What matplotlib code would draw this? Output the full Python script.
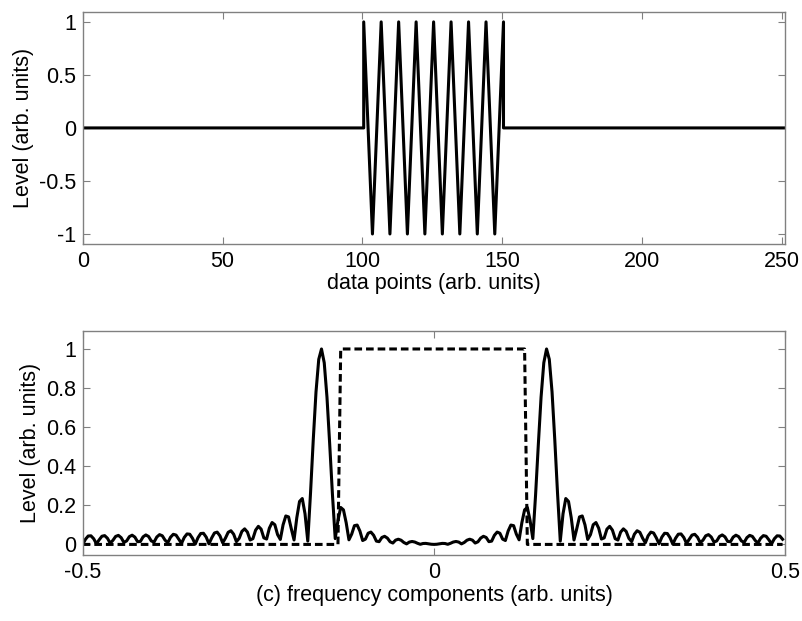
import numpy as np
import matplotlib
matplotlib.use("Agg")
import matplotlib.pyplot as plt

plt.rcParams['font.family'] = ['Liberation Sans', 'DejaVu Sans']
plt.rcParams['font.size'] = 15.5

# time-domain burst: zero, then eight periods of a cosine, then zero
n_points = 256
x_end = 251
burst_t = [100.5, 100.5, 103.63, 106.75, 109.88, 113, 116.13, 119.25, 122.38, 125.5,
           128.63, 131.75, 134.88, 138, 141.13, 144.25, 147.38, 150.5, 150.5]
burst_v = [0, 1, -1, 1, -1, 1, -1, 1, -1, 1, -1, 1, -1, 1, -1, 1, -1, 1, 0]

# the same burst as integer samples 101..150 (symmetric about 125.5)
burst_start = 101
burst_samples = [0.876, 0.063, -0.809, -0.930, -0.187, 0.729, 0.969, 0.309, -0.637, -0.992,
                 -0.426, 0.536, 1.000, 0.536, -0.426, -0.992, -0.637, 0.309, 0.969, 0.729,
                 -0.187, -0.930, -0.809, 0.063, 0.876, 0.876, 0.063, -0.809, -0.930, -0.187,
                 0.729, 0.969, 0.309, -0.637, -0.992, -0.426, 0.536, 1.000, 0.536, -0.426,
                 -0.992, -0.637, 0.309, 0.969, 0.729, -0.187, -0.930, -0.809, 0.063, 0.876]

# low-pass band edges (normalised frequency)
filter_lo = -0.133
filter_hi = 0.129

top_yticks = [-1, -0.5, 0, 0.5, 1]
top_xticks = [0, 50, 100, 150, 200, 250]
bot_yticks = [0, 0.2, 0.4, 0.6, 0.8, 1]
bot_xticks = [-0.5, 0, 0.5]

# spectrum of the zero-padded burst
sig = np.zeros(n_points)
sig[burst_start:burst_start + len(burst_samples)] = burst_samples
freq = np.fft.fftshift(np.fft.fftfreq(n_points))
spec = np.abs(np.fft.fftshift(np.fft.fft(sig)))
spec = spec / spec.max()
mask = ((freq >= filter_lo) & (freq <= filter_hi)).astype(float)

fig = plt.figure(figsize=(8.03, 6.21), dpi=100)
ax1 = fig.add_axes([0.103, 0.607, 0.875, 0.374])
ax2 = fig.add_axes([0.103, 0.106, 0.875, 0.361])

axis_grey = '#808080'


def style(ax):
    for s in ax.spines.values():
        s.set_color(axis_grey)
        s.set_linewidth(1.0)
    ax.tick_params(direction='in', top=True, right=True, color=axis_grey,
                   length=5, width=0.8, labelcolor='black', pad=5)


ax1.plot([0] + burst_t + [x_end], [0] + burst_v + [0], color='black', lw=2.2)
ax1.set_xlim(0, 251.3)
ax1.set_ylim(-1.095, 1.095)
ax1.set_xticks(top_xticks, [str(t) for t in top_xticks])
ax1.set_yticks(top_yticks, ['-1', '-0.5', '0', '0.5', '1'])
ax1.set_xlabel('data points (arb. units)', labelpad=1)
ax1.set_ylabel('Level (arb. units)', labelpad=3)
style(ax1)

ax2.plot(freq, spec, color='black', lw=2.2)
ax2.plot(freq, mask, color='black', lw=2.2, linestyle=(0, (2.5, 1.3)))
ax2.set_xlim(-0.5, 0.5)
ax2.set_ylim(-0.055, 1.092)
ax2.set_xticks(bot_xticks, ['-0.5', '0', '0.5'])
ax2.set_yticks(bot_yticks, ['0', '0.2', '0.4', '0.6', '0.8', '1'])
ax2.set_xlabel('(c) frequency components (arb. units)', labelpad=1)
ax2.set_ylabel('Level (arb. units)', labelpad=3)
style(ax2)

fig.savefig('out.png', dpi=100)
